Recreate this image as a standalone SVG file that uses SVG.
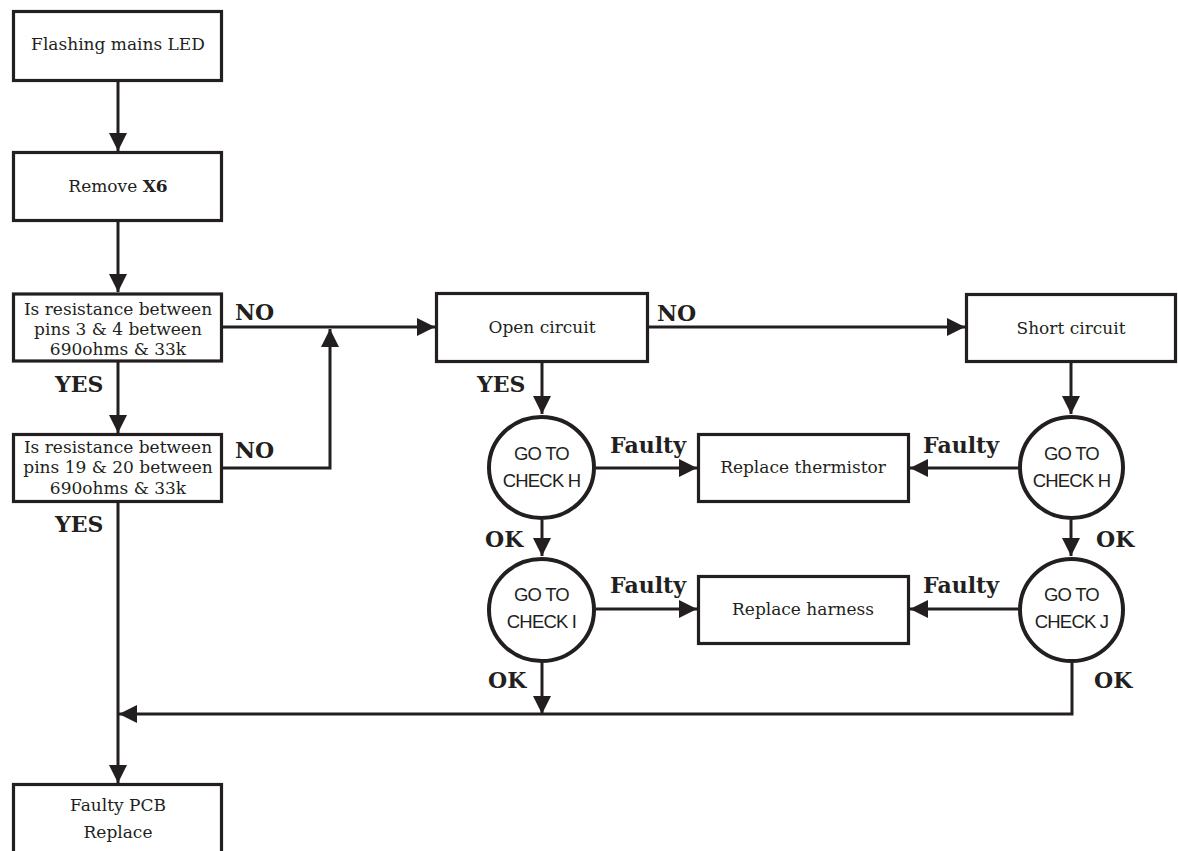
<svg xmlns="http://www.w3.org/2000/svg" width="1178" height="851" viewBox="0 0 1178 851">
<style>
.box{fill:#fff;stroke:#231f20;stroke-width:3.2}
.circ{fill:#fff;stroke:#231f20;stroke-width:4}
.t{font-family:"DejaVu Serif","Liberation Serif",serif;font-size:17px;fill:#231f20;text-anchor:middle}
.c{font-family:"Liberation Sans Narrow","Liberation Sans",sans-serif;font-size:18.5px;letter-spacing:-0.8px;fill:#231f20;text-anchor:middle}
.l{font-family:"DejaVu Serif","Liberation Serif",serif;font-size:22px;font-weight:bold;fill:#231f20}
.ln{fill:none;stroke:#231f20;stroke-width:3;marker-end:url(#ah)}
</style>
<defs>
<marker id="ah" markerUnits="userSpaceOnUse" markerWidth="18" markerHeight="18" refX="18" refY="9" orient="auto" viewBox="0 0 18 18">
<path d="M0,0 L18,9 L0,18 Z" fill="#231f20"/>
</marker>
</defs>
<rect width="1178" height="851" fill="#fff"/>
<g id="connectors">
<line class="ln" x1="118" y1="82" x2="118" y2="151"/>
<line class="ln" x1="118" y1="222" x2="118" y2="292"/>
<line class="ln" x1="118" y1="362" x2="118" y2="433"/>
<line class="ln" x1="223" y1="327" x2="435" y2="327"/>
<polyline class="ln" points="223,468 330,468 330,329"/>
<line class="ln" x1="649" y1="327" x2="965" y2="327"/>
<line class="ln" x1="542" y1="363" x2="542" y2="414"/>
<line class="ln" x1="1071" y1="363" x2="1071" y2="414"/>
<line class="ln" x1="596" y1="468" x2="697" y2="468"/>
<line class="ln" x1="1018" y1="468" x2="910" y2="468"/>
<line class="ln" x1="542" y1="520" x2="542" y2="556"/>
<line class="ln" x1="1071" y1="520" x2="1071" y2="556"/>
<line class="ln" x1="596" y1="609" x2="697" y2="609"/>
<line class="ln" x1="1018" y1="609" x2="910" y2="609"/>
<line class="ln" x1="542" y1="663" x2="542" y2="714"/>
<polyline class="ln" points="1072,663 1072,714 119,714"/>
<line class="ln" x1="118" y1="503" x2="118" y2="783"/>
</g>
<g id="n-flashing">
<rect class="box" x="13.5" y="11.5" width="208" height="69"/>
<text class="t" x="118" y="50">Flashing mains LED</text>
</g>
<g id="n-remove">
<rect class="box" x="13.5" y="152.5" width="208" height="68"/>
<text class="t" x="118" y="192">Remove <tspan font-weight="bold">X6</tspan></text>
</g>
<g id="n-res34">
<rect class="box" x="13.5" y="294" width="208" height="67"/>
<text class="t" x="118" y="315">Is resistance between</text>
<text class="t" x="118" y="335">pins 3 &amp; 4 between</text>
<text class="t" x="118" y="355">690ohms &amp; 33k</text>
</g>
<g id="n-res1920">
<rect class="box" x="13.5" y="434.5" width="208" height="67"/>
<text class="t" x="118" y="453">Is resistance between</text>
<text class="t" x="118" y="473">pins 19 &amp; 20 between</text>
<text class="t" x="118" y="494">690ohms &amp; 33k</text>
</g>
<g id="n-pcb">
<rect class="box" x="13.5" y="784.5" width="208" height="90"/>
<text class="t" x="118" y="811">Faulty PCB</text>
<text class="t" x="118" y="838">Replace</text>
</g>
<g id="n-open">
<rect class="box" x="436.5" y="293.5" width="211" height="68"/>
<text class="t" x="542" y="333">Open circuit</text>
</g>
<g id="n-short">
<rect class="box" x="966.5" y="294.5" width="209" height="67"/>
<text class="t" x="1071" y="334">Short circuit</text>
</g>
<g id="n-thermistor">
<rect class="box" x="698.5" y="434.5" width="210" height="67"/>
<text class="t" x="803" y="473">Replace thermistor</text>
</g>
<g id="n-harness">
<rect class="box" x="698.5" y="576.5" width="210" height="67"/>
<text class="t" x="803" y="615">Replace harness</text>
</g>
<g id="n-checkH1">
<ellipse class="circ" cx="541.5" cy="467.5" rx="52.5" ry="50.5"/>
<text class="c" x="541.5" y="460">GO TO</text>
<text class="c" x="541.5" y="487">CHECK H</text>
</g>
<g id="n-checkI">
<ellipse class="circ" cx="541.5" cy="610" rx="52.5" ry="51"/>
<text class="c" x="541.5" y="601">GO TO</text>
<text class="c" x="541.5" y="628">CHECK I</text>
</g>
<g id="n-checkH2">
<ellipse class="circ" cx="1071.5" cy="467.5" rx="51.5" ry="50.5"/>
<text class="c" x="1071.5" y="460">GO TO</text>
<text class="c" x="1071.5" y="487">CHECK H</text>
</g>
<g id="n-checkJ">
<ellipse class="circ" cx="1071.5" cy="610" rx="51.5" ry="51"/>
<text class="c" x="1071.5" y="601">GO TO</text>
<text class="c" x="1071.5" y="628">CHECK J</text>
</g>
<g id="labels">
<text class="l" x="235" y="320">NO</text>
<text class="l" x="235" y="458">NO</text>
<text class="l" x="657" y="321">NO</text>
<text class="l" x="55" y="392">YES</text>
<text class="l" x="55" y="532">YES</text>
<text class="l" x="477" y="392">YES</text>
<text class="l" x="610" y="453">Faulty</text>
<text class="l" x="923" y="453">Faulty</text>
<text class="l" x="610" y="593">Faulty</text>
<text class="l" x="923" y="593">Faulty</text>
<text class="l" x="485" y="547">OK</text>
<text class="l" x="1096" y="547">OK</text>
<text class="l" x="488" y="688">OK</text>
<text class="l" x="1094" y="688">OK</text>
</g>
</svg>
